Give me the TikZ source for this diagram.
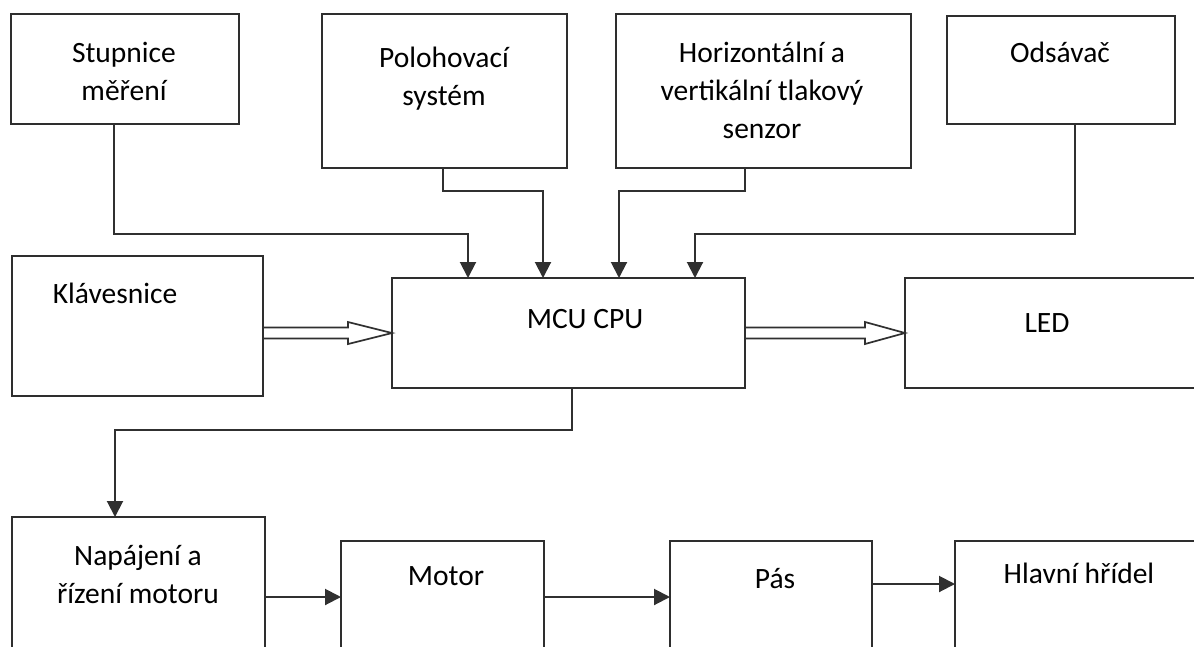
\documentclass[tikz,border=0pt]{standalone}
\usepackage{fontspec}
\setmainfont{Carlito}
\usetikzlibrary{arrows.meta,calc}
\definecolor{boxc}{HTML}{2E2E2E}
\definecolor{linec}{HTML}{303030}
\begin{document}
\begin{tikzpicture}[x=1pt,y=-1pt,
  blk/.style 2 args={draw=boxc, line width=2.2pt, inner sep=0pt, outer sep=0pt,
    minimum width=#1, minimum height=#2, fill=white},
  lbl/.style={font=\fontsize{29.5}{38}\selectfont, align=center, inner sep=0pt, text=black},
  conn/.style={draw=linec, line width=2pt, -{Triangle[length=16pt,width=16pt]}},
  harrow/.style={draw=linec, line width=1.7pt, line join=miter}]
\useasboundingbox (0,0) rectangle (1194,646);
\clip (0,0) rectangle (1194,646);
\fill[white] (0,0) rectangle (1194,646);

% blocks
\node[blk={228}{110}] (stup) at (125,69) {};
\node[blk={245}{154}] (pol) at (444.5,91) {};
\node[blk={295}{154}] (hor) at (763.5,91) {};
\node[blk={228}{108}] (ods) at (1061,70) {};
\node[blk={251}{140}] (kl) at (137.5,326) {};
\node[blk={353}{110}] (mcu) at (568.5,333) {};
\node[blk={295}{110}] (led) at (1052.5,333) {};
\node[blk={253}{143}] (nap) at (138.5,588.5) {};
\node[blk={203}{119}] (mot) at (442.5,600.5) {};
\node[blk={202}{119}] (pas) at (771,600.5) {};
\node[blk={245}{119}] (hla) at (1077.5,600.5) {};

% labels
\node[lbl] (tstup) at (124,71) {Stupnice\\měření};
\node[lbl] (tpol) at (444,79) {Polohovací\\systém};
\node[lbl] (thor) at (762,90) {Horizontální a\\vertikální tlakový\\senzor};
\node[lbl] (tods) at (1060,52) {Odsávač};
\node[lbl] (tkl) at (115,293) {Klávesnice};
\node[lbl] (tmcu) at (585,319) {MCU CPU};
\node[lbl] (tled) at (1047,323) {LED};
\node[lbl] (tnap) at (138,574) {Napájení a\\řízení motoru};
\node[lbl] (tmot) at (446,576) {Motor};
\node[lbl] (tpas) at (775,579) {Pás};
\node[lbl] (thla) at (1079,573) {Hlavní hřídel};

% bend points
\coordinate (b1) at (114,234); \coordinate (t1) at (468,234);
\coordinate (b2) at (443,191); \coordinate (t2) at (543,191);
\coordinate (b3) at (745,191); \coordinate (t3) at (619,191);
\coordinate (b4) at (1075,234); \coordinate (t4) at (695,234);
\coordinate (b5) at (572,430); \coordinate (t5) at (115,430);
\coordinate (y6) at (0,597); \coordinate (y7) at (0,584);

% connectors into MCU
\draw[conn] (stup.south -| b1) -- (b1) -- (t1) -- (t1 |- mcu.north);
\draw[conn] (pol.south -| b2) -- (b2) -- (t2) -- (t2 |- mcu.north);
\draw[conn] (hor.south -| b3) -- (b3) -- (t3) -- (t3 |- mcu.north);
\draw[conn] (ods.south -| b4) -- (b4) -- (t4) -- (t4 |- mcu.north);

% MCU to power/motor control
\draw[conn] (mcu.south -| b5) -- (b5) -- (t5) -- (t5 |- nap.north);

% bottom chain
\draw[conn] (nap.east |- y6) -- (mot.west |- y6);
\draw[conn] (mot.east |- y6) -- (pas.west |- y6);
\draw[conn] (pas.east |- y7) -- (hla.west |- y7);

% hollow double arrows
\draw[harrow] ($(kl.east |- mcu.west)+(0,-5.5)$) -- ($(mcu.west)+(-44,-5.5)$)
  -- ($(mcu.west)+(-44,-11)$) -- (mcu.west) -- ($(mcu.west)+(-44,11)$)
  -- ($(mcu.west)+(-44,5.5)$) -- ($(kl.east |- mcu.west)+(0,5.5)$);
\draw[harrow] ($(mcu.east)+(0,-5.5)$) -- ($(led.west)+(-40,-5.5)$)
  -- ($(led.west)+(-40,-11)$) -- (led.west) -- ($(led.west)+(-40,11)$)
  -- ($(led.west)+(-40,5.5)$) -- ($(mcu.east)+(0,5.5)$);
\end{tikzpicture}
\end{document}
